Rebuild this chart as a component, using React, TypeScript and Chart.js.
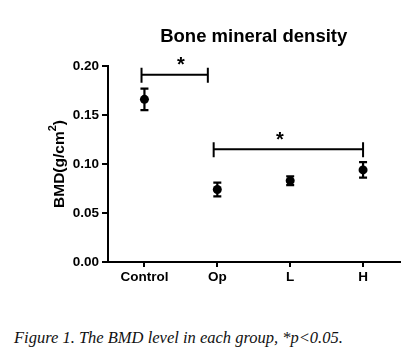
import React, { useEffect, useRef } from "react";
import { Chart, registerables } from "chart.js";

Chart.register(...registerables);

const categories = ["Control", "Op", "L", "H"];
const meanBMD = [0.166, 0.074, 0.083, 0.094];
const semBMD = [0.011, 0.007, 0.0045, 0.008];
const yTicks = [0, 0.05, 0.1, 0.15, 0.2];
const bracketFrom = [-0.04, 0.95];
const bracketTo = [0.87, 3.0];
const bracketLevel = [0.191, 0.115];
const starAt = [0.5, 1.86];
const titleText = "Bone mineral density";
const yTitleMain = "BMD(g/cm";
const yTitleSup = "2";
const yTitleEnd = ")";
const captionText = "Figure 1. The BMD level in each group, *p<0.05.";

const SANS = "'Liberation Sans', Arial, sans-serif";

const decorPlugin = {
  id: "decor",
  beforeDatasetsDraw(chart: any) {
    const ctx = chart.ctx;
    const x = chart.scales.x;
    const y = chart.scales.y;
    ctx.save();
    ctx.strokeStyle = "#000";
    ctx.lineWidth = 2.2;
    meanBMD.forEach((m, i) => {
      const px = x.getPixelForValue(i);
      const top = y.getPixelForValue(m + semBMD[i]);
      const bot = y.getPixelForValue(m - semBMD[i]);
      ctx.beginPath();
      ctx.moveTo(px, top);
      ctx.lineTo(px, bot);
      ctx.moveTo(px - 4, top);
      ctx.lineTo(px + 4, top);
      ctx.moveTo(px - 4, bot);
      ctx.lineTo(px + 4, bot);
      ctx.stroke();
    });
    ctx.restore();
  },
  afterDraw(chart: any) {
    const ctx = chart.ctx;
    const x = chart.scales.x;
    const y = chart.scales.y;
    const area = chart.chartArea;
    ctx.save();
    ctx.fillStyle = "#000";
    ctx.strokeStyle = "#000";
    // title
    ctx.font = `bold 18.5px ${SANS}`;
    ctx.textAlign = "center";
    ctx.textBaseline = "middle";
    ctx.fillText(titleText, (area.left + area.right) / 2, 37);
    // brackets
    ctx.lineWidth = 2;
    bracketFrom.forEach((f, i) => {
      const x1 = x.getPixelForValue(f);
      const x2 = x.getPixelForValue(bracketTo[i]);
      const py = y.getPixelForValue(bracketLevel[i]);
      ctx.beginPath();
      ctx.moveTo(x1, py);
      ctx.lineTo(x2, py);
      ctx.moveTo(x1, py - 7);
      ctx.lineTo(x1, py + 8);
      ctx.moveTo(x2, py - 7);
      ctx.lineTo(x2, py + 8);
      ctx.stroke();
      ctx.font = `bold 20px ${SANS}`;
      ctx.textAlign = "center";
      ctx.textBaseline = "middle";
      ctx.fillText("*", x.getPixelForValue(starAt[i]), py - 9);
    });
    // y title
    ctx.translate(59, (area.top + area.bottom) / 2);
    ctx.rotate(-Math.PI / 2);
    const mainFont = `bold 15.5px ${SANS}`;
    const supFont = `bold 11px ${SANS}`;
    ctx.font = mainFont;
    const w1 = ctx.measureText(yTitleMain).width;
    const w3 = ctx.measureText(yTitleEnd).width;
    ctx.font = supFont;
    const w2 = ctx.measureText(yTitleSup).width;
    let sx = -(w1 + w2 + w3) / 2;
    ctx.textAlign = "left";
    ctx.textBaseline = "alphabetic";
    ctx.font = mainFont;
    ctx.fillText(yTitleMain, sx, 5);
    sx += w1;
    ctx.font = supFont;
    ctx.fillText(yTitleSup, sx, -3);
    sx += w2;
    ctx.font = mainFont;
    ctx.fillText(yTitleEnd, sx, 5);
    ctx.restore();
  },
};

export default function App() {
  const ref = useRef<HTMLCanvasElement>(null);
  useEffect(() => {
    document.body.style.margin = "0";
    const chart = new Chart(ref.current as HTMLCanvasElement, {
      type: "line",
      data: {
        labels: categories,
        datasets: [
          {
            data: meanBMD,
            showLine: false,
            pointRadius: 4.5,
            pointHoverRadius: 4.5,
            pointBackgroundColor: "#000",
            pointBorderColor: "#000",
            pointBorderWidth: 0,
          },
        ],
      },
      options: {
        responsive: false,
        animation: false,
        events: [],
        layout: { padding: { top: 66, right: 4, left: 0, bottom: 0 } },
        plugins: { legend: { display: false }, tooltip: { enabled: false }, title: { display: false } },
        scales: {
          x: {
            type: "category",
            offset: true,
            grid: { display: true, drawOnChartArea: false, drawTicks: true, tickLength: 5, color: "#000", lineWidth: 2 },
            border: { display: true, color: "#000", width: 2 },
            ticks: { color: "#000", font: { family: SANS, size: 13.5, weight: "bold" }, padding: 2 },
            afterFit(s: any) {
              s.height = 38;
            },
          },
          y: {
            min: 0,
            max: 0.2,
            afterBuildTicks(s: any) {
              s.ticks = yTicks.map((v) => ({ value: v }));
            },
            grid: { display: true, drawOnChartArea: false, drawTicks: true, tickLength: 6, color: "#000", lineWidth: 2 },
            border: { display: true, color: "#000", width: 2 },
            ticks: {
              color: "#000",
              font: { family: SANS, size: 13.5, weight: "bold" },
              padding: 3,
              callback: (v: any) => Number(v).toFixed(2),
            },
            afterFit(s: any) {
              s.width = 108;
            },
          },
        },
      } as any,
      plugins: [decorPlugin],
    });
    return () => chart.destroy();
  }, []);
  return (
    <div style={{ position: "relative", width: 404, height: 357, background: "#fff" }}>
      <canvas ref={ref} width={404} height={300} style={{ display: "block" }} />
      <div
        style={{
          position: "absolute",
          left: 14,
          top: 328,
          fontFamily: "'Liberation Serif', 'Times New Roman', serif",
          fontStyle: "italic",
          fontSize: 16.5,
          color: "#111",
          whiteSpace: "nowrap",
          lineHeight: "20px",
        }}
      >
        {captionText}
      </div>
    </div>
  );
}
